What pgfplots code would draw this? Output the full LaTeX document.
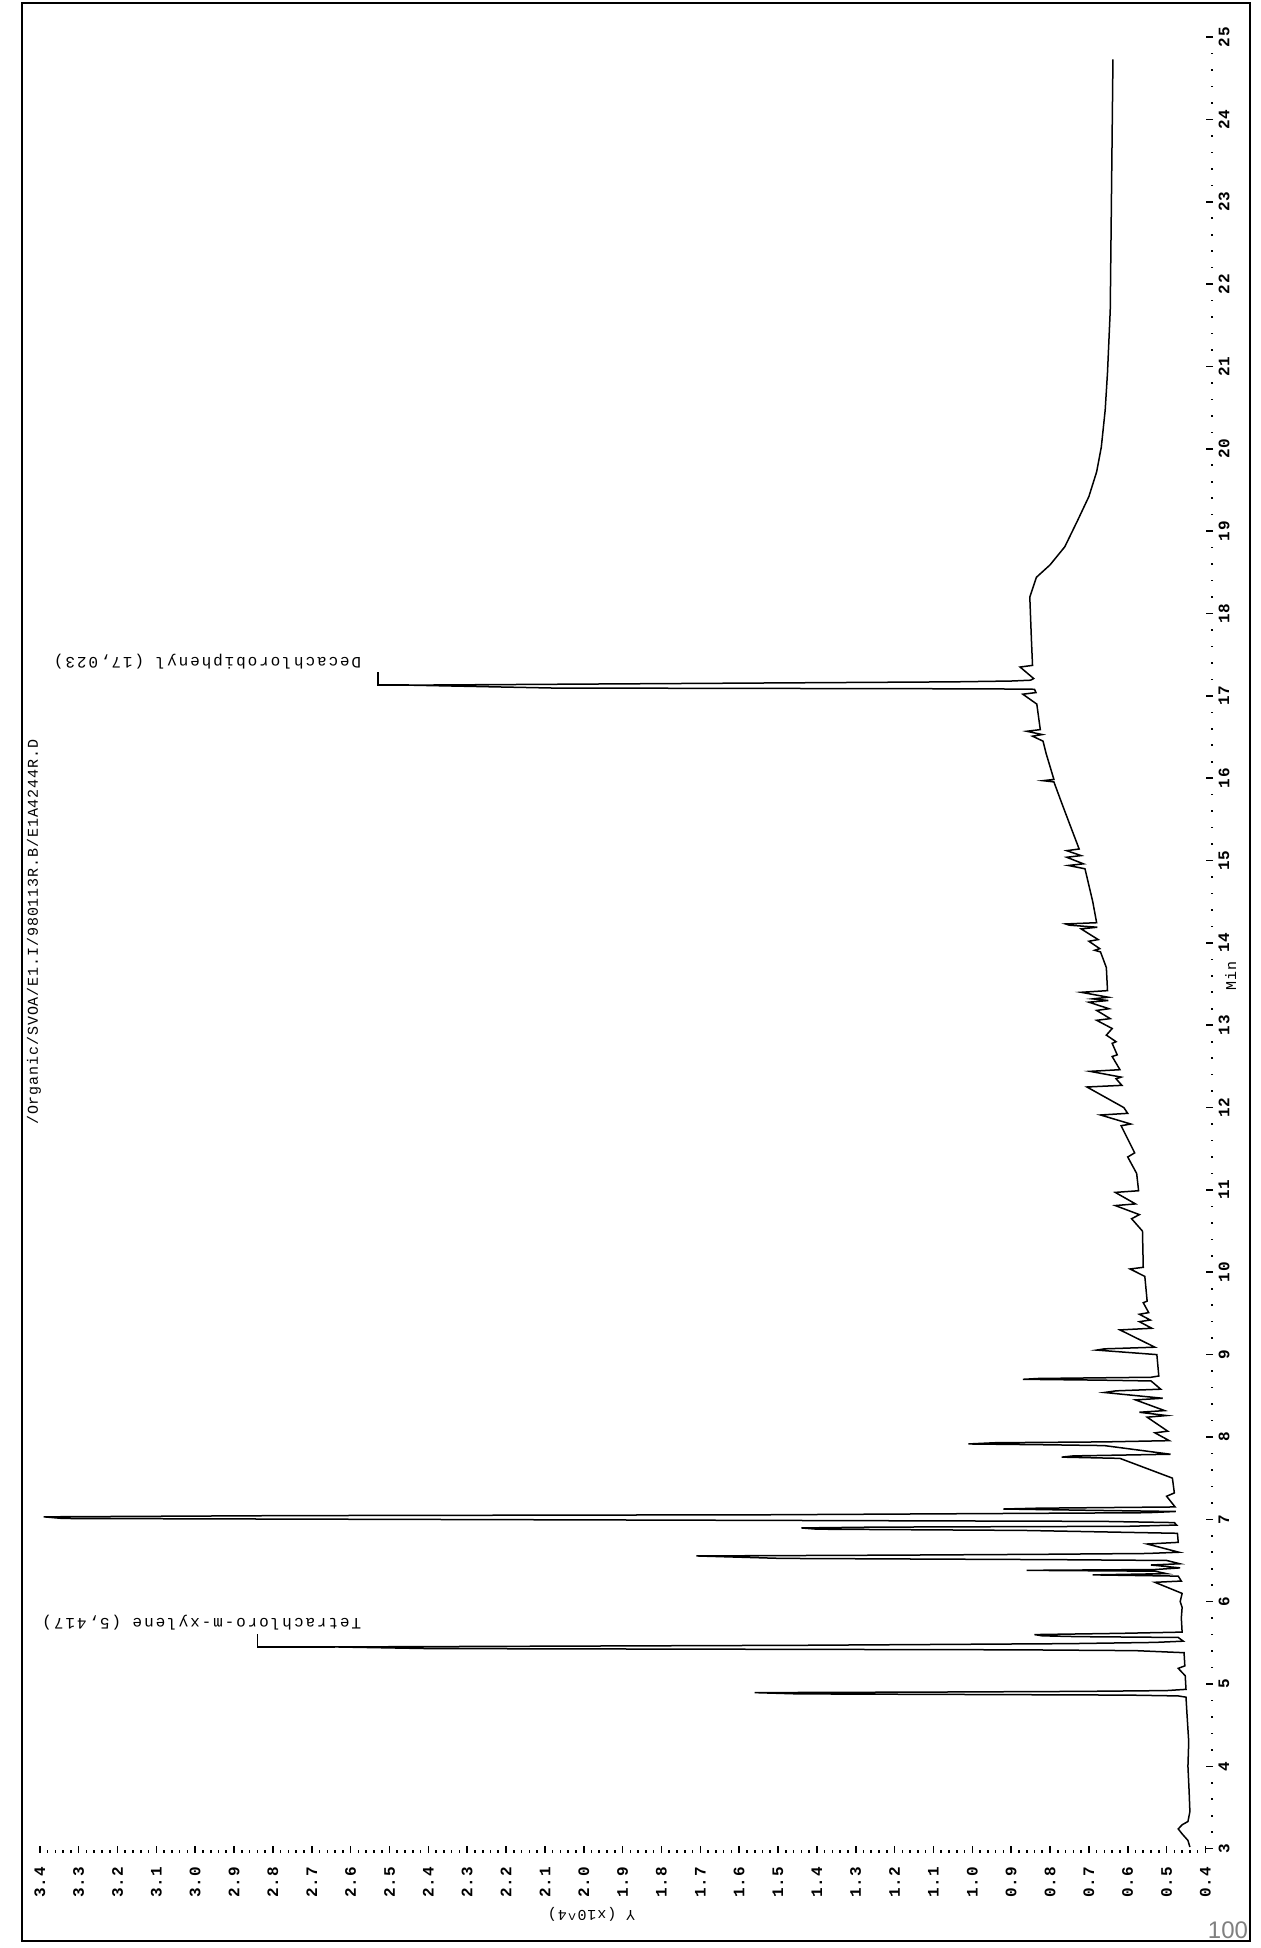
\documentclass[border=0pt]{standalone}
\usepackage{pgfplots}
\pgfplotsset{compat=1.18}
\usepackage{fontspec}
\newfontfamily\prt{Liberation Mono}[LetterSpace=12]
\newfontfamily\titf{Liberation Mono}[LetterSpace=6]
\newfontfamily\tickf{Liberation Mono}[LetterSpace=4]
\newfontfamily\stampfont{Liberation Sans}
\newcommand\pfont{\prt\fontsize{8}{9}\selectfont}
\newcommand\ttfontx{\titf\fontsize{7.5}{8}\selectfont}
\newcommand\tfont{\tickf\bfseries\fontsize{8}{9}\selectfont}
\begin{document}
\begin{tikzpicture}
\useasboundingbox (0,0) rectangle (630.5pt,974pt);
\draw[line width=1.2pt] (11pt,3.5pt) rectangle (625pt,972.5pt);
\begin{axis}[
  at={(19.9pt,47.6pt)}, anchor=south west,
  scale only axis, width=586.7pt, height=909.9pt,
  x dir=reverse,
  xmin=0.38, xmax=3.4, ymin=2.95, ymax=25.05,
  axis x line*=bottom, axis y line*=right,
  axis line style={draw=none},
  clip=false,
  xtick={0.4,0.5,0.6,0.7,0.8,0.9,1.0,1.1,1.2,1.3,1.4,1.5,1.6,1.7,1.8,1.9,2.0,2.1,2.2,2.3,2.4,2.5,2.6,2.7,2.8,2.9,3.0,3.1,3.2,3.3,3.4},
  ytick={3,4,...,25},
  minor x tick num=4, minor y tick num=4,
  tick align=inside,
  major tick length=3.5pt, minor tick length=1.2pt,
  every tick/.style={black, line width=0.8pt},
  /pgf/number format/assume math mode=true,
  xticklabel={\pgfmathprintnumber[fixed,fixed zerofill,precision=1]{\tick}},
  yticklabel={\pgfmathprintnumber[fixed,precision=0]{\tick}},
  xticklabel style={rotate=90, anchor=east, inner xsep=7pt, inner ysep=0pt, font=\tfont},
  yticklabel style={rotate=90, anchor=north, inner ysep=2.5pt, inner xsep=0pt, font=\tfont},
]
\addplot[black, line width=0.75pt] coordinates {
(0.44,3.02) (0.445,3.10) (0.46,3.18) (0.47,3.24) (0.46,3.29) (0.445,3.33) (0.44,3.45) (0.442,3.70) (0.445,4.00) (0.443,4.30) (0.447,4.60) (0.45,4.84)
(0.47,4.855) (0.60,4.865) (1.45,4.88) (1.56,4.895) (1.10,4.902) (0.72,4.91) (0.50,4.92) (0.45,4.935)
(0.452,5.10) (0.47,5.19) (0.453,5.22) (0.455,5.38)
(0.58,5.405) (0.885,5.415) (2.40,5.43) (2.64,5.45) (1.44,5.47) (0.75,5.49) (0.53,5.505) (0.457,5.52)
(0.47,5.565) (0.73,5.575) (0.82,5.585) (0.84,5.60) (0.62,5.615) (0.46,5.63)
(0.462,5.80) (0.46,5.93) (0.465,6.00) (0.46,6.10) (0.53,6.235) (0.462,6.25) (0.47,6.31) (0.69,6.325) (0.50,6.34) (0.53,6.37) (0.86,6.38) (0.53,6.39) (0.465,6.41) (0.54,6.445) (0.466,6.46)
(0.50,6.50) (0.79,6.51) (1.49,6.525) (1.71,6.555) (1.19,6.565) (0.82,6.575) (0.55,6.585) (0.468,6.60)
(0.55,6.70) (0.47,6.72) (0.472,6.83)
(0.87,6.865) (1.40,6.88) (1.44,6.895) (1.25,6.905) (0.60,6.915) (0.474,6.93)
(0.48,6.96) (0.67,6.975) (1.77,6.99) (3.34,7.01) (3.39,7.03) (2.75,7.045) (1.53,7.055) (0.94,7.07) (0.55,7.08) (0.476,7.095)
(0.71,7.11) (0.92,7.125) (0.83,7.135) (0.478,7.15)
(0.50,7.28) (0.48,7.32) (0.485,7.50)
(0.62,7.74) (0.77,7.755) (0.74,7.77) (0.49,7.79)
(0.66,7.895) (0.81,7.905) (1.01,7.915) (0.94,7.93) (0.66,7.94) (0.493,7.955)
(0.53,8.05) (0.497,8.07) (0.55,8.24) (0.50,8.26) (0.57,8.30) (0.505,8.32) (0.58,8.45) (0.51,8.47) (0.66,8.54) (0.63,8.56) (0.515,8.58)
(0.54,8.68) (0.67,8.69) (0.87,8.70) (0.83,8.71) (0.54,8.725) (0.52,8.74)
(0.525,9.00) (0.68,9.055) (0.66,9.07) (0.53,9.09) (0.62,9.30) (0.538,9.32) (0.57,9.40) (0.542,9.42) (0.57,9.49) (0.546,9.51) (0.56,9.63) (0.55,9.65)
(0.556,9.95) (0.594,10.04) (0.56,10.06) (0.562,10.50) (0.59,10.65) (0.57,10.70) (0.632,10.81) (0.58,10.83) (0.632,10.97) (0.572,10.99)
(0.577,11.20) (0.60,11.40) (0.582,11.45) (0.617,11.78) (0.592,11.80) (0.67,11.91) (0.60,11.93) (0.61,12.00)
(0.705,12.25) (0.615,12.27) (0.63,12.35) (0.617,12.37) (0.697,12.44) (0.62,12.46) (0.64,12.62) (0.627,12.64) (0.64,12.78) (0.63,12.80)
(0.655,12.88) (0.64,12.96) (0.68,13.06) (0.645,13.08) (0.68,13.18) (0.648,13.20) (0.70,13.28) (0.65,13.30) (0.69,13.32) (0.65,13.34) (0.72,13.40) (0.652,13.42)
(0.655,13.70) (0.67,13.89) (0.685,13.91) (0.672,13.93) (0.70,14.02) (0.676,14.04) (0.72,14.17) (0.678,14.19) (0.75,14.215) (0.76,14.23) (0.68,14.245)
(0.69,14.50) (0.71,14.90) (0.753,14.94) (0.714,14.96) (0.757,15.04) (0.72,15.06) (0.757,15.12) (0.725,15.14) (0.75,15.45) (0.77,15.70)
(0.79,15.955) (0.818,15.97) (0.79,15.985) (0.81,16.30) (0.818,16.45) (0.845,16.51) (0.82,16.53) (0.86,16.57) (0.825,16.59) (0.834,16.90) (0.87,17.02) (0.836,17.04)
(0.84,17.08) (0.96,17.085) (2.08,17.095) (2.45,17.13) (1.05,17.17) (0.90,17.18) (0.85,17.19) (0.842,17.21) (0.877,17.35) (0.845,17.37)
(0.848,17.70) (0.852,18.20) (0.835,18.44) (0.80,18.59) (0.762,18.81) (0.73,19.12) (0.70,19.42) (0.68,19.72) (0.668,20.02) (0.658,20.47) (0.652,20.93) (0.645,21.68) (0.638,24.73)
};
% peak label markers
\addplot[black, line width=0.7pt] coordinates {(2.64,5.45) (2.84,5.45) (2.84,5.61)};
\addplot[black, line width=0.7pt] coordinates {(2.45,17.13) (2.53,17.13) (2.53,17.29)};
\node[rotate=180, anchor=west, font=\pfont, inner sep=0pt] at (axis cs:2.572,5.75) {Tetrachloro-m-xylene (5,417)};
\node[rotate=180, anchor=west, font=\pfont, inner sep=0pt] at (axis cs:2.572,17.42) {Decachlorobiphenyl (17,023)};
\node[rotate=90, font=\ttfontx, inner sep=0pt] at (axis cs:3.415,14.13) {/Organic/SVOA/E1.I/980113R.B/E1A4244R.D};
\node[rotate=90, font=\ttfontx, inner sep=0pt] at (axis cs:0.335,13.6) {Min};
\node[rotate=180, font=\ttfontx, inner sep=0pt] at (axis cs:1.98,2.2) {Y (x10\textasciicircum4)};
\end{axis}
\node[font=\stampfont\fontsize{12}{12}\selectfont, text=gray, inner sep=0pt] at (614pt,9pt) {100};
\end{tikzpicture}
\end{document}
